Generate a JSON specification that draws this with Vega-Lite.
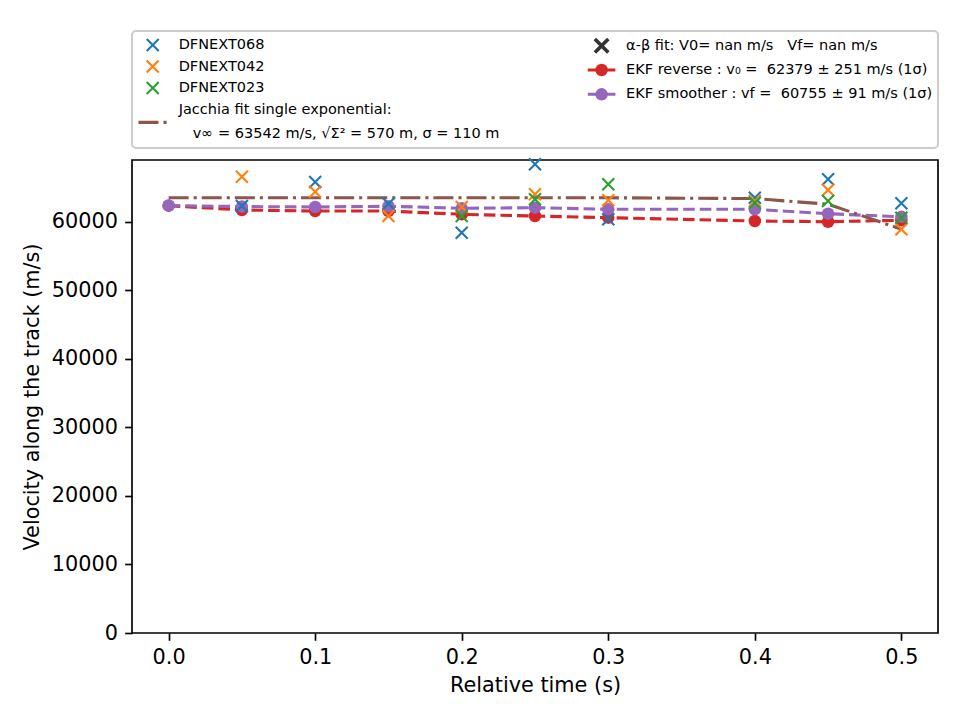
{
  "$schema": "https://vega.github.io/schema/vega-lite/v6.json",
  "background": "white",
  "padding": {"left": 20, "top": 30, "right": 5, "bottom": 5},
  "spacing": 4,
  "config": {
    "font": "DejaVu Sans",
    "view": {"stroke": "black", "strokeWidth": 1.67},
    "axis": {
      "domain": false,
      "grid": false,
      "tickColor": "black",
      "tickWidth": 1.67,
      "tickSize": 7.3,
      "labelPadding": 7.3,
      "labelFont": "DejaVu Sans",
      "labelFontSize": 20.8,
      "labelColor": "black",
      "titleFont": "DejaVu Sans",
      "titleFontSize": 20.8,
      "titleFontWeight": "normal",
      "titleColor": "black"
    }
  },
  "datasets": {
    "measures": [
      {"t": 0.05, "v": 62334, "series": "DFNEXT068"},
      {"t": 0.1, "v": 65837, "series": "DFNEXT068"},
      {"t": 0.15, "v": 62670, "series": "DFNEXT068"},
      {"t": 0.2, "v": 58436, "series": "DFNEXT068"},
      {"t": 0.25, "v": 68421, "series": "DFNEXT068"},
      {"t": 0.3, "v": 60392, "series": "DFNEXT068"},
      {"t": 0.4, "v": 63545, "series": "DFNEXT068"},
      {"t": 0.45, "v": 66231, "series": "DFNEXT068"},
      {"t": 0.5, "v": 62728, "series": "DFNEXT068"},
      {"t": 0.05, "v": 66611, "series": "DFNEXT042"},
      {"t": 0.1, "v": 64422, "series": "DFNEXT042"},
      {"t": 0.15, "v": 60874, "series": "DFNEXT042"},
      {"t": 0.2, "v": 62187, "series": "DFNEXT042"},
      {"t": 0.25, "v": 64040, "series": "DFNEXT042"},
      {"t": 0.3, "v": 63165, "series": "DFNEXT042"},
      {"t": 0.4, "v": 63063, "series": "DFNEXT042"},
      {"t": 0.45, "v": 64669, "series": "DFNEXT042"},
      {"t": 0.5, "v": 58932, "series": "DFNEXT042"},
      {"t": 0.2, "v": 60874, "series": "DFNEXT023"},
      {"t": 0.25, "v": 63311, "series": "DFNEXT023"},
      {"t": 0.3, "v": 65501, "series": "DFNEXT023"},
      {"t": 0.4, "v": 62816, "series": "DFNEXT023"},
      {"t": 0.45, "v": 63063, "series": "DFNEXT023"},
      {"t": 0.5, "v": 60626, "series": "DFNEXT023"},
      {"t": 0.0, "v": 63542, "series": "Jacchia"},
      {"t": 0.05, "v": 63542, "series": "Jacchia"},
      {"t": 0.1, "v": 63542, "series": "Jacchia"},
      {"t": 0.15, "v": 63542, "series": "Jacchia"},
      {"t": 0.2, "v": 63542, "series": "Jacchia"},
      {"t": 0.25, "v": 63540, "series": "Jacchia"},
      {"t": 0.3, "v": 63535, "series": "Jacchia"},
      {"t": 0.4, "v": 63420, "series": "Jacchia"},
      {"t": 0.45, "v": 62600, "series": "Jacchia"},
      {"t": 0.5, "v": 58950, "series": "Jacchia"},
      {"t": 0.0, "v": 62379, "series": "EKF reverse"},
      {"t": 0.05, "v": 61750, "series": "EKF reverse"},
      {"t": 0.1, "v": 61600, "series": "EKF reverse"},
      {"t": 0.15, "v": 61600, "series": "EKF reverse"},
      {"t": 0.2, "v": 61120, "series": "EKF reverse"},
      {"t": 0.25, "v": 60870, "series": "EKF reverse"},
      {"t": 0.3, "v": 60630, "series": "EKF reverse"},
      {"t": 0.4, "v": 60150, "series": "EKF reverse"},
      {"t": 0.45, "v": 60040, "series": "EKF reverse"},
      {"t": 0.5, "v": 60250, "series": "EKF reverse"},
      {"t": 0.0, "v": 62400, "series": "EKF smoother"},
      {"t": 0.05, "v": 62250, "series": "EKF smoother"},
      {"t": 0.1, "v": 62190, "series": "EKF smoother"},
      {"t": 0.15, "v": 62300, "series": "EKF smoother"},
      {"t": 0.2, "v": 62000, "series": "EKF smoother"},
      {"t": 0.25, "v": 62090, "series": "EKF smoother"},
      {"t": 0.3, "v": 61850, "series": "EKF smoother"},
      {"t": 0.4, "v": 61850, "series": "EKF smoother"},
      {"t": 0.45, "v": 61210, "series": "EKF smoother"},
      {"t": 0.5, "v": 60755, "series": "EKF smoother"}
    ],
    "legendEntries": [
      {"col": "L", "row": 0, "series": "DFNEXT068", "label": "DFNEXT068"},
      {"col": "L", "row": 1, "series": "DFNEXT042", "label": "DFNEXT042"},
      {"col": "L", "row": 2, "series": "DFNEXT023", "label": "DFNEXT023"},
      {"col": "L", "row": 3.6, "series": "Jacchia", "label": "Jacchia fit single exponential:", "label2": "v\u221e = 63542 m/s, \u221a\u03a3\u00b2 = 570 m, \u03c3 = 110 m"},
      {"col": "R", "row": 0, "series": "alpha-beta", "label": "\u03b1-\u03b2 fit: V0= nan m/s \u00a0\u00a0Vf= nan m/s"},
      {"col": "R", "row": 1, "series": "EKF reverse", "label": "EKF reverse : v\u2080 = \u00a062379 \u00b1 251 m/s (1\u03c3)"},
      {"col": "R", "row": 2, "series": "EKF smoother", "label": "EKF smoother : vf = \u00a060755 \u00b1 91 m/s (1\u03c3)"}
    ]
  },
  "vconcat": [
    {
      "width": 806,
      "height": 117,
      "view": {"stroke": "#cccccc", "strokeWidth": 2, "cornerRadius": 4},
      "data": {"name": "legendEntries"},
      "resolve": {"scale": {"y": "independent"}},
      "encoding": {
        "x": {"field": "col", "type": "nominal", "scale": {"type": "point", "domain": ["L", "R"], "range": [20.7, 469.6], "padding": 0}, "axis": null},
        "color": {
          "field": "series", "type": "nominal", "legend": null,
          "scale": {
            "domain": ["DFNEXT068", "DFNEXT042", "DFNEXT023", "Jacchia", "alpha-beta", "EKF reverse", "EKF smoother"],
            "range": ["#1f77b4", "#ff7f0e", "#2ca02c", "#8c564b", "#333333", "#d62728", "#9467bd"]
          }
        }
      },
      "layer": [
        {
          "transform": [{"filter": {"field": "series", "oneOf": ["DFNEXT068", "DFNEXT042", "DFNEXT023"]}}],
          "mark": {"type": "point", "shape": "M-1,-1L1,1M-1,1L1,-1", "filled": false, "size": 144, "strokeWidth": 2.1, "opacity": 1},
          "encoding": {"y": {"field": "row", "type": "quantitative", "scale": {"domain": [0, 4], "range": [14, 100]}, "axis": null}}
        },
        {
          "transform": [{"filter": "datum.series === 'Jacchia'"}],
          "mark": {"type": "point", "shape": "M-1,0L1,0", "filled": false, "size": 807, "strokeWidth": 3.1, "strokeDash": [20, 5, 3.1, 5], "opacity": 1},
          "encoding": {"y": {"field": "row", "type": "quantitative", "scale": {"domain": [0, 4], "range": [14, 100]}, "axis": null}}
        },
        {
          "transform": [{"filter": "datum.col === 'L' && datum.series !== 'Jacchia'"}],
          "mark": {"type": "text", "align": "left", "baseline": "middle", "dx": 26, "fontSize": 14.5, "color": "black"},
          "encoding": {
            "y": {"field": "row", "type": "quantitative", "scale": {"domain": [0, 4], "range": [14, 100]}, "axis": null},
            "text": {"field": "label"},
            "color": {"value": "black"}
          }
        },
        {
          "transform": [{"filter": "datum.series === 'Jacchia'"}],
          "mark": {"type": "text", "align": "left", "baseline": "middle", "dx": 26, "dy": -12, "fontSize": 14.5, "color": "black"},
          "encoding": {
            "y": {"field": "row", "type": "quantitative", "scale": {"domain": [0, 4], "range": [14, 100]}, "axis": null},
            "text": {"field": "label"},
            "color": {"value": "black"}
          }
        },
        {
          "transform": [{"filter": "datum.series === 'Jacchia'"}],
          "mark": {"type": "text", "align": "left", "baseline": "middle", "dx": 40, "dy": 12, "fontSize": 14.5, "color": "black"},
          "encoding": {
            "y": {"field": "row", "type": "quantitative", "scale": {"domain": [0, 4], "range": [14, 100]}, "axis": null},
            "text": {"field": "label2"},
            "color": {"value": "black"}
          }
        },
        {
          "transform": [{"filter": "datum.series === 'alpha-beta'"}],
          "mark": {"type": "point", "shape": "M-1,-1L1,1M-1,1L1,-1", "filled": false, "size": 180, "strokeWidth": 3.6, "opacity": 1},
          "encoding": {"y": {"field": "row", "type": "quantitative", "scale": {"domain": [0, 2], "range": [14.7, 63.3]}, "axis": null}}
        },
        {
          "transform": [{"filter": {"field": "series", "oneOf": ["EKF reverse", "EKF smoother"]}}],
          "mark": {"type": "point", "shape": "M-1,0L1,0", "filled": false, "size": 762, "strokeWidth": 3.1, "strokeDash": [11.6, 5], "opacity": 1},
          "encoding": {"y": {"field": "row", "type": "quantitative", "scale": {"domain": [0, 2], "range": [14.7, 63.3]}, "axis": null}}
        },
        {
          "transform": [{"filter": {"field": "series", "oneOf": ["EKF reverse", "EKF smoother"]}}],
          "mark": {"type": "point", "shape": "circle", "filled": true, "size": 156, "opacity": 1},
          "encoding": {"y": {"field": "row", "type": "quantitative", "scale": {"domain": [0, 2], "range": [14.7, 63.3]}, "axis": null}}
        },
        {
          "transform": [{"filter": "datum.col === 'R'"}],
          "mark": {"type": "text", "align": "left", "baseline": "middle", "dx": 24.5, "fontSize": 14.5, "color": "black"},
          "encoding": {
            "y": {"field": "row", "type": "quantitative", "scale": {"domain": [0, 2], "range": [14.7, 63.3]}, "axis": null},
            "text": {"field": "label"},
            "color": {"value": "black"}
          }
        }
      ]
    },
    {
      "width": 806,
      "height": 473,
      "data": {"name": "measures"},
      "encoding": {
        "x": {
          "field": "t", "type": "quantitative",
          "scale": {"domain": [-0.025, 0.525], "nice": false, "zero": false},
          "axis": {"values": [0, 0.1, 0.2, 0.3, 0.4, 0.5], "format": ".1f", "title": "Relative time (s)", "titlePadding": 8}
        },
        "y": {
          "field": "v", "type": "quantitative",
          "scale": {"domain": [0, 69050], "nice": false},
          "axis": {"values": [0, 10000, 20000, 30000, 40000, 50000, 60000], "format": "d", "title": "Velocity along the track (m/s)", "titlePadding": 9}
        },
        "color": {
          "field": "series", "type": "nominal", "legend": null,
          "scale": {
            "domain": ["DFNEXT068", "DFNEXT042", "DFNEXT023", "Jacchia", "alpha-beta", "EKF reverse", "EKF smoother"],
            "range": ["#1f77b4", "#ff7f0e", "#2ca02c", "#8c564b", "#333333", "#d62728", "#9467bd"]
          }
        }
      },
      "layer": [
        {
          "transform": [{"filter": "datum.series === 'EKF reverse'"}],
          "mark": {"type": "line", "strokeWidth": 3.1, "strokeDash": [11.6, 5]}
        },
        {
          "transform": [{"filter": "datum.series === 'EKF reverse'"}],
          "mark": {"type": "point", "shape": "circle", "filled": true, "size": 156, "opacity": 1}
        },
        {
          "transform": [{"filter": "datum.series === 'EKF smoother'"}],
          "mark": {"type": "line", "strokeWidth": 3.1, "strokeDash": [11.6, 5]}
        },
        {
          "transform": [{"filter": "datum.series === 'EKF smoother'"}],
          "mark": {"type": "point", "shape": "circle", "filled": true, "size": 156, "opacity": 1}
        },
        {
          "transform": [{"filter": "datum.series === 'Jacchia'"}],
          "mark": {"type": "line", "strokeWidth": 3.1, "strokeDash": [20, 5, 3.1, 5]}
        },
        {
          "transform": [{"filter": {"field": "series", "oneOf": ["DFNEXT068", "DFNEXT042", "DFNEXT023"]}}],
          "mark": {"type": "point", "shape": "M-1,-1L1,1M-1,1L1,-1", "filled": false, "size": 144, "strokeWidth": 2.1, "opacity": 1}
        }
      ]
    }
  ]
}
